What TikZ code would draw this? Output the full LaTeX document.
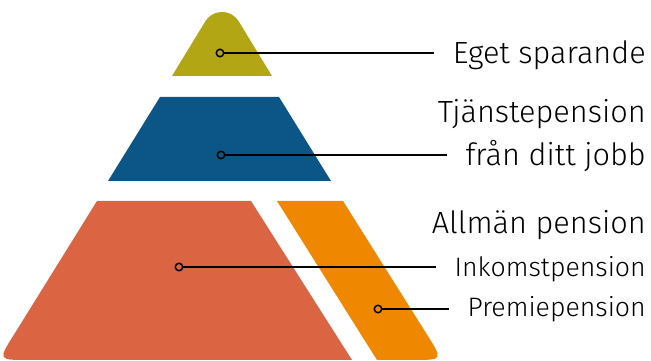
\documentclass[tikz,border=0pt]{standalone}
\usepackage{fontspec}
\setmainfont{Fira Sans Light}
\usetikzlibrary{positioning}
\definecolor{sparolive}{HTML}{B2A614}
\definecolor{tjblue}{HTML}{0B5687}
\definecolor{inkred}{HTML}{DB6442}
\definecolor{premorange}{HTML}{EF8800}
\tikzset{dot/.style = {draw, circle, line width = 1.1pt, inner sep = 0, minimum size = 5.6pt}}
\tikzset{link/.style = {line width = 1.1pt, shorten >= 14pt}}
\tikzset{lbl/.style = {anchor = east, inner sep = 0, text height = 15.8pt, text depth = 0pt,
                       font = \fontsize{23}{27}\selectfont}}
\tikzset{sublbl/.style = {lbl, text height = 13.8pt, font = \fontsize{20}{24}\selectfont}}

\begin{document}
\begin{tikzpicture}[x = 0.75pt, y = 0.75pt]
  \useasboundingbox (0, 0) rectangle (651, 361);
  \fill [sparolive] (172, 285) -- (205.3, 339.6) arc [start angle = 148.6, end angle = 31.4, radius = 19.6]
        -- (272, 285) -- cycle;
  \fill [tjblue] (108, 180) -- (331, 180) -- (279, 264) -- (160, 264) -- cycle;
  \fill [inkred] (97, 160) -- (251, 160) -- (352, 1) -- (28, 1) .. controls (-2, 1) .. (14, 26.4) -- cycle;
  \fill [premorange] (277, 160) -- (343, 160) -- (427, 26.4) .. controls (443, 1) .. (413, 1) -- (377, 1) -- cycle;
  % dots
  \node (sparDot) at (220, 308) [dot] {};
  \node (tjDot) at (221, 206) [dot] {};
  \node (inkDot) at (179, 94) [dot] {};
  \node (premDot) at (378, 52) [dot] {};
  % labels
  \node (spar) at (646, 308) [lbl] {Eget sparande};
  \node (tj) at (646, 249) [lbl] {Tjänstepension};
  \node (fran) at (646, 206) [lbl] {från ditt jobb};
  \node (allm) at (646, 138) [lbl] {Allmän pension};
  \node (ink) at (646, 94) [sublbl] {Inkomstpension};
  \node (prem) at (646, 54) [sublbl] {Premiepension};
  % connectors
  \draw [link] (sparDot) -- (sparDot -| spar.west);
  \draw [link] (tjDot) -- (tjDot -| fran.west);
  \draw [link] (inkDot) -- (inkDot -| ink.west);
  \draw [link] (premDot) -- (premDot -| prem.west);
\end{tikzpicture}
\end{document}
